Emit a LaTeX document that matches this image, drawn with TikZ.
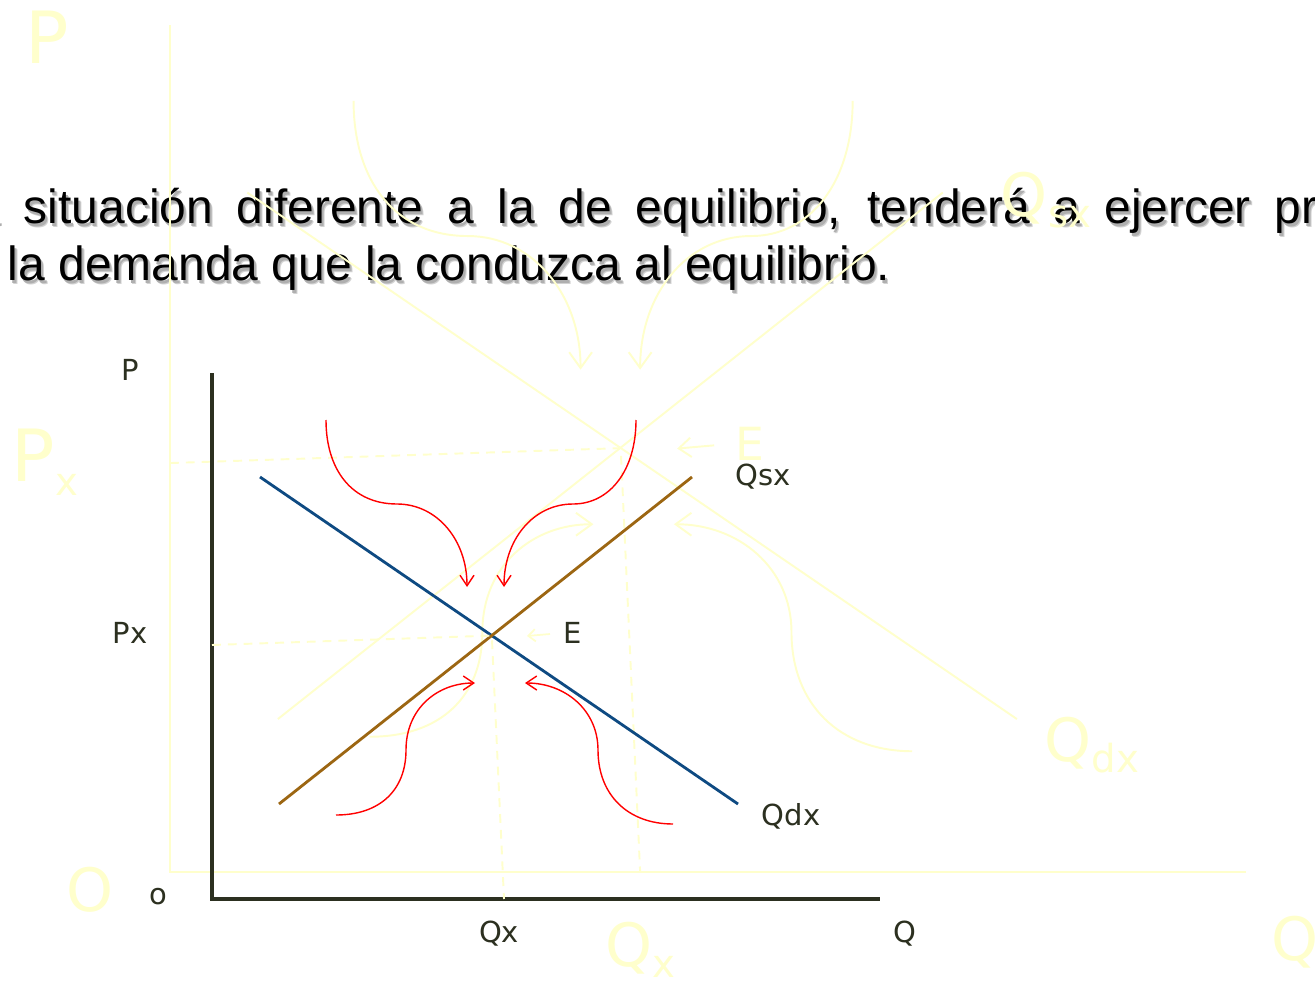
\documentclass[tikz,border=0pt]{standalone}
\usepackage{fontspec}
\setmainfont{Liberation Sans}
\newfontfamily\chartfont{DejaVu Sans}
\usetikzlibrary{arrows.meta}
\definecolor{marketAxis}{RGB}{44,48,32}
\definecolor{marketBlue}{RGB}{14,74,130}
\definecolor{marketBrown}{RGB}{156,102,18}
\definecolor{marketRed}{RGB}{255,0,0}
\definecolor{marketGhost}{RGB}{255,255,204}
\definecolor{marketShadow}{RGB}{175,175,175}

% the chart, drawn once faded and big, once in front
\newcommand{\marketlines}{%
  \coordinate (eq) at (491.8,635.6);
  % axes
  \draw[axisline] (212,373) -- (212,899) -- (880,899);
  % demand and supply
  \draw[demandline] (260,477) -- (738,804);
  \draw[supplyline] (279,804) -- (692,477);
  % guides
  \draw[guideline] (212,645) -- (eq) -- (504,899);
  % pressure arrows
  \draw[pushline] (326,420) .. controls (326,470) and (352,504) .. (397,504) .. controls (437,504) and (467,540) .. (467,587);
  \draw[pushline] (636,420) .. controls (636,470) and (610,504) .. (573,504) .. controls (533,504) and (504,540) .. (504,587);
  \draw[pushline] (336,815) .. controls (380,815) and (406,790) .. (406,750) .. controls (406,708) and (438,683) .. (475,683);
  \draw[pushline] (673,824) .. controls (628,824) and (598,795) .. (598,750) .. controls (598,710) and (565,683) .. (525,683);
  \draw[hintline] (550,634) -- (527,636);
}
\newcommand{\ghostsub}[1]{\raisebox{-0.35ex}{\fontsize{22pt}{22pt}\selectfont #1}}
\newcommand{\slidelinea}{\makebox[25.88cm][s]{situación diferente a la de equilibrio, tenderá a ejercer pr}}
\newcommand{\slidelineb}{la demanda que la conduzca al equilibrio.}

\begin{document}
\begin{tikzpicture}[x=0.02cm, y=-0.02cm,
    bodytext/.style={font=\fontsize{27.3pt}{32pt}\selectfont, anchor=base west, inner sep=0pt},
    marketlabel/.style={font=\chartfont\fontsize{16.5pt}{18pt}\selectfont, text=marketAxis, inner sep=0pt},
    ghostlabel/.style={font=\chartfont\fontsize{34pt}{36pt}\selectfont, text=marketGhost, inner sep=0pt},
    axisline/.style={marketAxis, line width=1.9pt},
    demandline/.style={marketBlue, line width=1.6pt},
    supplyline/.style={marketBrown, line width=1.6pt},
    guideline/.style={marketGhost, line width=1.1pt, dash pattern=on 5pt off 4pt},
    pushline/.style={marketRed, line width=0.8pt, -{Straight Barb[length=6pt,width=8pt]}},
    hintline/.style={marketGhost, line width=1pt, -{Straight Barb[length=4pt,width=7pt]}}]
  \useasboundingbox (0,0) rectangle (1315,990);
  \clip (0,0) rectangle (1315,990);
  \fill[white] (0,0) rectangle (1315,990);

  % slide text, soft shadow first
  \node[bodytext, text=marketShadow!55] (shadowaa) at (26.5,227) {\slidelinea};
  \node[bodytext, text=marketShadow!55] (shadowbb) at (10.5,284) {\slidelineb};
  \node[bodytext, text=marketShadow] (shadowa) at (25.5,226) {\slidelinea};
  \node[bodytext, text=marketShadow] (shadowb) at (9.5,283) {\slidelineb};
  \node[bodytext, anchor=base east, text=marketShadow] (shadowc) at (2.5,226) {una};
  \node[bodytext] (linea) at (23.5,223) {\slidelinea};
  \node[bodytext] (lineb) at (7.5,280) {\slidelineb};
  \node[bodytext, anchor=base east] (linec) at (0.5,223) {una};

  % faded copy behind
  \begin{scope}[shift={(-171.3,-575.4)}, scale=1.61,
      axisline/.style={marketGhost, line width=1.4pt},
      demandline/.style={marketGhost, line width=1.1pt},
      supplyline/.style={marketGhost, line width=1.1pt},
      pushline/.style={marketGhost, line width=1.1pt, -{Straight Barb[length=9pt,width=13pt]}},
      hintline/.style={marketGhost, line width=1.1pt, -{Straight Barb[length=7pt,width=11pt]}}]
    \marketlines
  \end{scope}
  \node[ghostlabel, font=\chartfont\fontsize{41pt}{43pt}\selectfont] (gp) at (47,37) {P};
  \node[ghostlabel, font=\chartfont\fontsize{41pt}{43pt}\selectfont] (gpx) at (45,462) {P\ghostsub{x}};
  \node[ghostlabel] (go) at (90,890) {O};
  \node[ghostlabel] (gqx) at (640,950) {Q\ghostsub{x}};
  \node[ghostlabel] (gq) at (1295,942) {Q};
  \node[ghostlabel] (gqdx) at (1092,745) {Q\ghostsub{dx}};
  \node[ghostlabel] (gqsx) at (1046,200) {Q\ghostsub{sx}};
  \node[ghostlabel, font=\chartfont\fontsize{26pt}{28pt}\selectfont] (ge) at (750,444) {E};

  % chart in front
  \marketlines
  \node[marketlabel] (p) at (130,370) {P};
  \node[marketlabel] (px) at (130,633) {Px};
  \node[marketlabel] (o) at (158,897) {o};
  \node[marketlabel] (qx) at (499,934) {Qx};
  \node[marketlabel] (q) at (905,934) {Q};
  \node[marketlabel] (qsx) at (763,477) {Qsx};
  \node[marketlabel] (qdx) at (791,816) {Qdx};
  \node[marketlabel] (e) at (573,633) {E};
\end{tikzpicture}
\end{document}
